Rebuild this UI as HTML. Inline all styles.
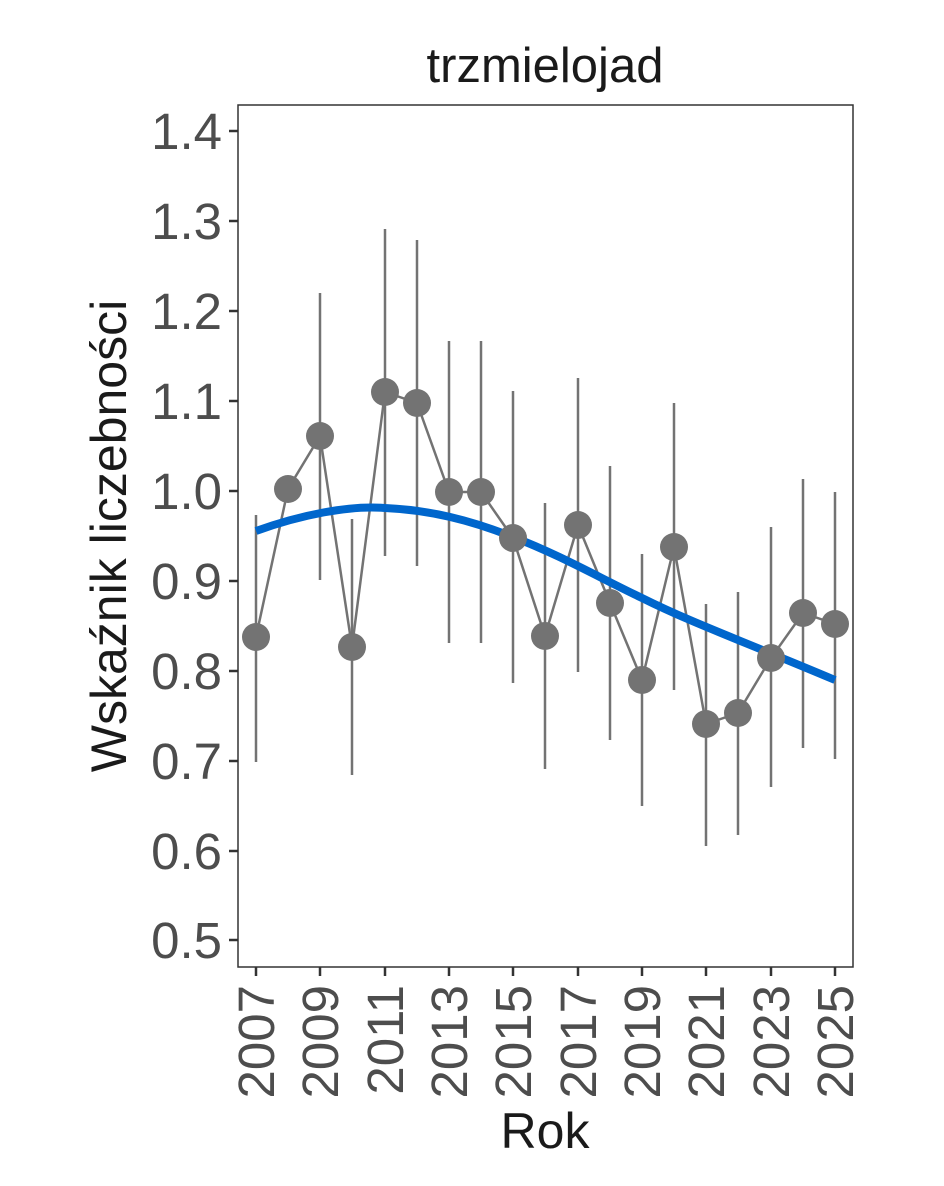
<!DOCTYPE html>
<html><head><meta charset="utf-8"><style>body{margin:0;background:#fff}</style></head><body>
<svg width="944" height="1181" xmlns="http://www.w3.org/2000/svg" font-family="Liberation Sans, sans-serif">
<rect width="944" height="1181" fill="#fff"/>
<text x="545" y="82" font-size="49" text-anchor="middle" fill="#1a1a1a">trzmielojad</text>
<rect x="238" y="105" width="615" height="862" fill="none" stroke="#333" stroke-width="1.5"/>
<g stroke="#333" stroke-width="2.5">
<line x1="229" y1="131" x2="238" y2="131"/><line x1="229" y1="221" x2="238" y2="221"/><line x1="229" y1="311" x2="238" y2="311"/><line x1="229" y1="401" x2="238" y2="401"/><line x1="229" y1="491" x2="238" y2="491"/><line x1="229" y1="581" x2="238" y2="581"/><line x1="229" y1="671" x2="238" y2="671"/><line x1="229" y1="761" x2="238" y2="761"/><line x1="229" y1="851" x2="238" y2="851"/><line x1="229" y1="940" x2="238" y2="940"/>
</g>
<g font-size="51" fill="#4d4d4d" text-anchor="end">
<text x="222" y="149">1.4</text><text x="222" y="239">1.3</text><text x="222" y="329">1.2</text><text x="222" y="419">1.1</text><text x="222" y="509">1.0</text><text x="222" y="599">0.9</text><text x="222" y="689">0.8</text><text x="222" y="779">0.7</text><text x="222" y="869">0.6</text><text x="222" y="958">0.5</text>
</g>
<g stroke="#333" stroke-width="2.5">
<line x1="256" y1="967" x2="256" y2="976"/><line x1="320" y1="967" x2="320" y2="976"/><line x1="385" y1="967" x2="385" y2="976"/><line x1="449" y1="967" x2="449" y2="976"/><line x1="513" y1="967" x2="513" y2="976"/><line x1="578" y1="967" x2="578" y2="976"/><line x1="642" y1="967" x2="642" y2="976"/><line x1="706" y1="967" x2="706" y2="976"/><line x1="771" y1="967" x2="771" y2="976"/><line x1="835" y1="967" x2="835" y2="976"/>
</g>
<g font-size="51" fill="#4d4d4d" text-anchor="end">
<text transform="translate(274,985) rotate(-90)">2007</text><text transform="translate(338,985) rotate(-90)">2009</text><text transform="translate(403,985) rotate(-90)">2011</text><text transform="translate(467,985) rotate(-90)">2013</text><text transform="translate(531,985) rotate(-90)">2015</text><text transform="translate(596,985) rotate(-90)">2017</text><text transform="translate(660,985) rotate(-90)">2019</text><text transform="translate(724,985) rotate(-90)">2021</text><text transform="translate(789,985) rotate(-90)">2023</text><text transform="translate(853,985) rotate(-90)">2025</text>
</g>
<text x="545" y="1148" font-size="50" text-anchor="middle" fill="#1a1a1a">Rok</text>
<text transform="translate(126,536) rotate(-90)" font-size="50" text-anchor="middle" fill="#1a1a1a">Wskaźnik liczebności</text>
<g stroke="#737373" stroke-width="2.5">
<line x1="256" y1="515" x2="256" y2="762"/><line x1="320" y1="293" x2="320" y2="580"/><line x1="352" y1="519" x2="352" y2="775"/><line x1="385" y1="229" x2="385" y2="556"/><line x1="417" y1="240" x2="417" y2="566"/><line x1="449" y1="341" x2="449" y2="643"/><line x1="481" y1="341" x2="481" y2="643"/><line x1="513" y1="391" x2="513" y2="683"/><line x1="545" y1="503" x2="545" y2="769"/><line x1="578" y1="378" x2="578" y2="672"/><line x1="610" y1="466" x2="610" y2="740"/><line x1="642" y1="554" x2="642" y2="806"/><line x1="674" y1="403" x2="674" y2="690"/><line x1="706" y1="604" x2="706" y2="846"/><line x1="738" y1="592" x2="738" y2="835"/><line x1="771" y1="527" x2="771" y2="787"/><line x1="803" y1="479" x2="803" y2="748"/><line x1="835" y1="492" x2="835" y2="759"/>
<polyline fill="none" points="256,637 288,489 320,436 352,647 385,392 417,403 449,492 481,492 513,538 545,636 578,525 610,603 642,680 674,547 706,724 738,713 771,658 803,613 835,624"/>
</g>
<path d="M256,531 C300,515 350,505 385,508 C430,510 470,520 513,537 C560,555 600,578 642,598 C690,622 740,640 835,680" fill="none" stroke="#0066cc" stroke-width="8"/>
<g fill="#737373">
<circle cx="256" cy="637" r="14"/><circle cx="288" cy="489" r="14"/><circle cx="320" cy="436" r="14"/><circle cx="352" cy="647" r="14"/><circle cx="385" cy="392" r="14"/><circle cx="417" cy="403" r="14"/><circle cx="449" cy="492" r="14"/><circle cx="481" cy="492" r="14"/><circle cx="513" cy="538" r="14"/><circle cx="545" cy="636" r="14"/><circle cx="578" cy="525" r="14"/><circle cx="610" cy="603" r="14"/><circle cx="642" cy="680" r="14"/><circle cx="674" cy="547" r="14"/><circle cx="706" cy="724" r="14"/><circle cx="738" cy="713" r="14"/><circle cx="771" cy="658" r="14"/><circle cx="803" cy="613" r="14"/><circle cx="835" cy="624" r="14"/>
</g>
</svg>
</body></html>
